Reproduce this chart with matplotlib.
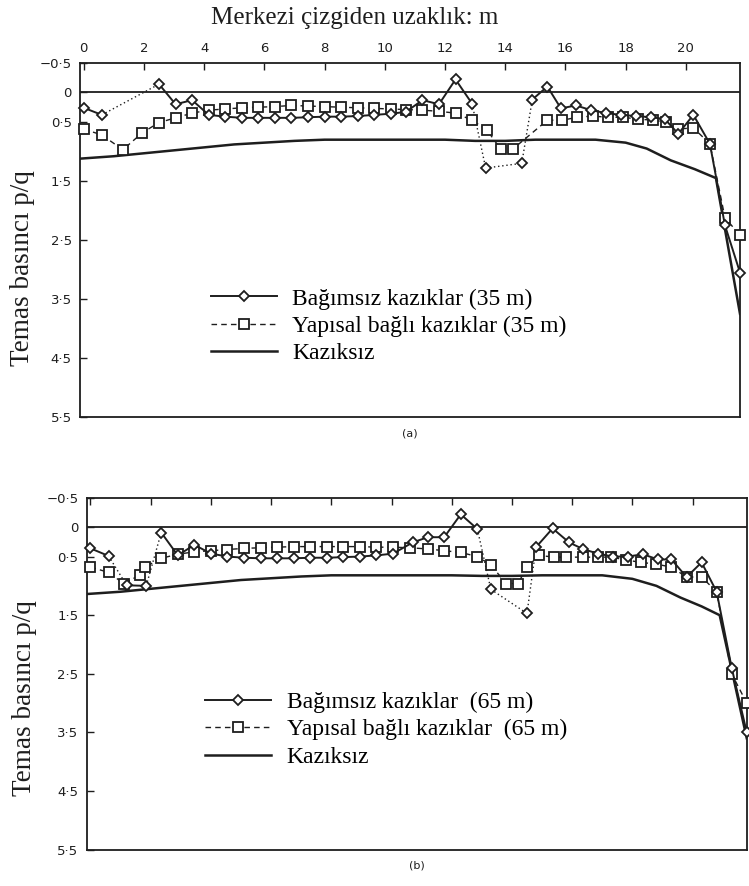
import numpy as np
import matplotlib
matplotlib.use("Agg")
import matplotlib.pyplot as plt
from matplotlib.ticker import FixedLocator, FixedFormatter


# ----------------------------
# Data: (a) 35 m piles
# ----------------------------

a_ind_x = [0, 0.6, 2.5, 3.05, 3.6, 4.15, 4.7, 5.25, 5.8, 6.35, 6.9, 7.45,
           8.0, 8.55, 9.1, 9.65, 10.2, 10.7, 11.25, 11.8, 12.35, 12.9, 13.35,
           14.55, 14.9, 15.4, 15.85, 16.35, 16.85, 17.35, 17.85, 18.35,
           18.85, 19.3, 19.75, 20.25, 20.8, 21.3, 21.8]
a_ind_p = [0.26, 0.38, -0.14, 0.2, 0.13, 0.38, 0.41, 0.43, 0.43, 0.43, 0.43,
           0.42, 0.41, 0.41, 0.4, 0.38, 0.36, 0.33, 0.13, 0.2, -0.22, 0.19,
           1.28, 1.2, 0.12, -0.1, 0.27, 0.22, 0.3, 0.35, 0.38, 0.4, 0.42,
           0.45, 0.7, 0.38, 0.87, 2.25, 3.05]

a_con_x = [0, 0.6, 1.3, 1.95, 2.5, 3.05, 3.6, 4.15, 4.7, 5.25, 5.8, 6.35,
           6.9, 7.45, 8.0, 8.55, 9.1, 9.65, 10.2, 10.7, 11.25, 11.8, 12.35,
           12.9, 13.4, 13.85, 14.25, 15.4, 15.9, 16.4, 16.9, 17.4, 17.9,
           18.4, 18.9, 19.35, 19.75, 20.25, 20.8, 21.3, 21.8]
a_con_p = [0.62, 0.72, 0.97, 0.68, 0.51, 0.43, 0.35, 0.3, 0.28, 0.26, 0.25,
           0.24, 0.22, 0.23, 0.24, 0.25, 0.26, 0.27, 0.28, 0.29, 0.3, 0.32,
           0.35, 0.47, 0.64, 0.96, 0.96, 0.47, 0.47, 0.42, 0.4, 0.42, 0.42,
           0.45, 0.47, 0.5, 0.62, 0.6, 0.87, 2.12, 2.42]

a_raft_x = [-0.1, 1, 2, 3, 4, 5, 6, 7, 8, 9, 10, 11, 12, 13, 14, 15, 16,
            17, 18, 18.7, 19.5, 20.3, 21.0, 21.8]
a_raft_p = [1.12, 1.08, 1.03, 0.98, 0.93, 0.88, 0.85, 0.82, 0.8, 0.8, 0.8,
            0.8, 0.8, 0.82, 0.82, 0.8, 0.8, 0.8, 0.85, 0.95, 1.15, 1.3,
            1.45, 3.75]

# indices after which the independent-pile curve jumps (drawn dotted)
a_ind_breaks = [1, 21, 22, 23]

# ----------------------------
# Data: (b) 65 m piles
# ----------------------------

b_ind_x = [0, 0.6, 1.2, 1.85, 2.35, 2.9, 3.45, 4.0, 4.55, 5.1, 5.65, 6.2,
           6.75, 7.3, 7.85, 8.4, 8.95, 9.5, 10.05, 10.7, 11.2, 11.75, 12.3,
           12.85, 13.3, 14.5, 14.8, 15.35, 15.9, 16.35, 16.85, 17.35, 17.85,
           18.35, 18.85, 19.3, 19.8, 20.3, 20.8, 21.3, 21.8]
b_ind_p = [0.36, 0.49, 0.99, 1.0, 0.09, 0.48, 0.3, 0.45, 0.5, 0.52, 0.53,
           0.53, 0.53, 0.52, 0.52, 0.51, 0.5, 0.48, 0.45, 0.26, 0.17, 0.17,
           -0.22, 0.03, 1.06, 1.47, 0.34, 0.02, 0.26, 0.37, 0.45, 0.5, 0.5,
           0.46, 0.55, 0.55, 0.85, 0.6, 1.1, 2.4, 3.5]

b_con_x = [0, 0.6, 1.1, 1.63, 1.8, 2.35, 2.9, 3.45, 4.0, 4.55, 5.1, 5.65,
           6.2, 6.75, 7.3, 7.85, 8.4, 8.95, 9.5, 10.05, 10.6, 11.2, 11.75,
           12.3, 12.85, 13.3, 13.8, 14.2, 14.5, 14.9, 15.4, 15.8, 16.35,
           16.85, 17.3, 17.8, 18.3, 18.8, 19.3, 19.8, 20.3, 20.8, 21.3, 21.8]
b_con_p = [0.68, 0.77, 0.96, 0.82, 0.68, 0.53, 0.46, 0.42, 0.4, 0.38, 0.36,
           0.35, 0.34, 0.33, 0.33, 0.33, 0.33, 0.33, 0.34, 0.34, 0.35, 0.37,
           0.4, 0.43, 0.5, 0.64, 0.96, 0.96, 0.68, 0.48, 0.51, 0.51, 0.51,
           0.51, 0.51, 0.56, 0.6, 0.63, 0.68, 0.85, 0.85, 1.1, 2.5, 3.0]

b_raft_x = [-0.15, 1, 2, 3, 4, 5, 6, 7, 8, 9, 10, 11, 12, 13, 14, 15, 16,
            17, 18, 18.8, 19.6, 20.3, 20.9, 21.8]
b_raft_p = [1.14, 1.1, 1.05, 1.0, 0.95, 0.9, 0.87, 0.84, 0.82, 0.82, 0.82,
            0.82, 0.82, 0.83, 0.83, 0.82, 0.82, 0.82, 0.88, 1.0, 1.2, 1.35,
            1.5, 3.6]

b_ind_breaks = [1, 3, 23, 24, 25]

y_ticks = [-0.5, 0, 0.5, 1.5, 2.5, 3.5, 4.5, 5.5]
y_tick_labels = ["\u22120\u00b75", "0", "0\u00b75", "1\u00b75", "2\u00b75",
                 "3\u00b75", "4\u00b75", "5\u00b75"]
x_ticks = list(range(0, 23, 2))

INK = "#1e1e1e"
SERIF = "Liberation Serif"


def draw_panel(ax, ind_x, ind_p, breaks, con_x, con_p, raft_x, raft_p,
               labels, tag, show_top_labels, legend_xy, ylabel_xy):

    ax.axhline(0, color=INK, lw=1.3)

    ax.plot(raft_x, raft_p, color=INK, lw=1.8, label=labels[2])

    ax.plot(con_x, con_p, color=INK, lw=1.0, ls=(0, (4, 3)),
            marker="s", ms=7.5, mfc="white", mec=INK, mew=1.3,
            label=labels[1], clip_on=False, zorder=3)

    # solid segments of the independent piles with gaps at jumps
    xs = []
    ps = []
    for i in range(len(ind_x)):
        xs.append(ind_x[i])
        ps.append(ind_p[i])
        if i in breaks:
            xs.append(np.nan)
            ps.append(np.nan)
    for i in breaks:
        ax.plot(ind_x[i:i + 2], ind_p[i:i + 2], color=INK, lw=1.0,
                ls=(0, (1, 2)), zorder=2)
    ax.plot(xs, ps, color=INK, lw=1.4, marker="D", ms=5.5,
            mfc="white", mec=INK, mew=1.3, label=labels[0],
            clip_on=False, zorder=4)

    ax.set_xlim(-0.12, 21.8)
    ax.set_ylim(5.5, -0.5)

    ax.yaxis.set_major_locator(FixedLocator(y_ticks))
    ax.yaxis.set_major_formatter(FixedFormatter(y_tick_labels))
    ax.xaxis.set_major_locator(FixedLocator(x_ticks))
    ax.xaxis.set_major_formatter(FixedFormatter([str(t) for t in x_ticks]))

    ax.tick_params(axis="y", direction="in", length=5, width=1.0,
                   labelsize=9.5, colors=INK, pad=6)
    ax.tick_params(axis="x", direction="in", length=5, width=1.0,
                   labelsize=9.5, colors=INK, top=True, bottom=False,
                   labeltop=show_top_labels, labelbottom=False, pad=6)

    for s in ax.spines.values():
        s.set_linewidth(1.3)
        s.set_color(INK)

    ax.set_ylabel("Temas bas\u0131nc\u0131 p/q", fontsize=19.5,
                  family=SERIF, color=INK)
    ax.yaxis.set_label_coords(*ylabel_xy)

    handles, hl = ax.get_legend_handles_labels()
    order = [hl.index(l) for l in labels]
    ax.legend([handles[k] for k in order], labels,
              loc="center left", bbox_to_anchor=legend_xy,
              frameon=False, numpoints=1, handlelength=2.8,
              handletextpad=0.65, labelspacing=0.25, borderpad=0.4,
              prop={"family": SERIF, "size": 17})

    ax.text(0.5, -0.045, tag, transform=ax.transAxes, ha="center",
            va="center", fontsize=8, color=INK)


fig = plt.figure(figsize=(7.49, 8.86), dpi=100)

ax_a = fig.add_axes([0.107, 0.529, 0.881, 0.400])
ax_b = fig.add_axes([0.116, 0.041, 0.881, 0.397])

draw_panel(ax_a, a_ind_x, a_ind_p, a_ind_breaks, a_con_x, a_con_p,
           a_raft_x, a_raft_p,
           ["Ba\u011f\u0131ms\u0131z kaz\u0131klar (35 m)",
            "Yap\u0131sal ba\u011fl\u0131 kaz\u0131klar (35 m)",
            "Kaz\u0131ks\u0131z"], "(a)", True,
           (0.166, 0.257), (-0.068, 0.42))

draw_panel(ax_b, b_ind_x, b_ind_p, b_ind_breaks, b_con_x, b_con_p,
           b_raft_x, b_raft_p,
           ["Ba\u011f\u0131ms\u0131z kaz\u0131klar  (65 m)",
            "Yap\u0131sal ba\u011fl\u0131 kaz\u0131klar  (65 m)",
            "Kaz\u0131ks\u0131z"], "(b)", False,
           (0.147, 0.341), (-0.076, 0.43))

fig.text(0.473, 0.980, "Merkezi \u00e7izgiden uzakl\u0131k: m",
         ha="center", va="center", fontsize=18, family=SERIF, color=INK)

fig.savefig("out.png", dpi=100)
